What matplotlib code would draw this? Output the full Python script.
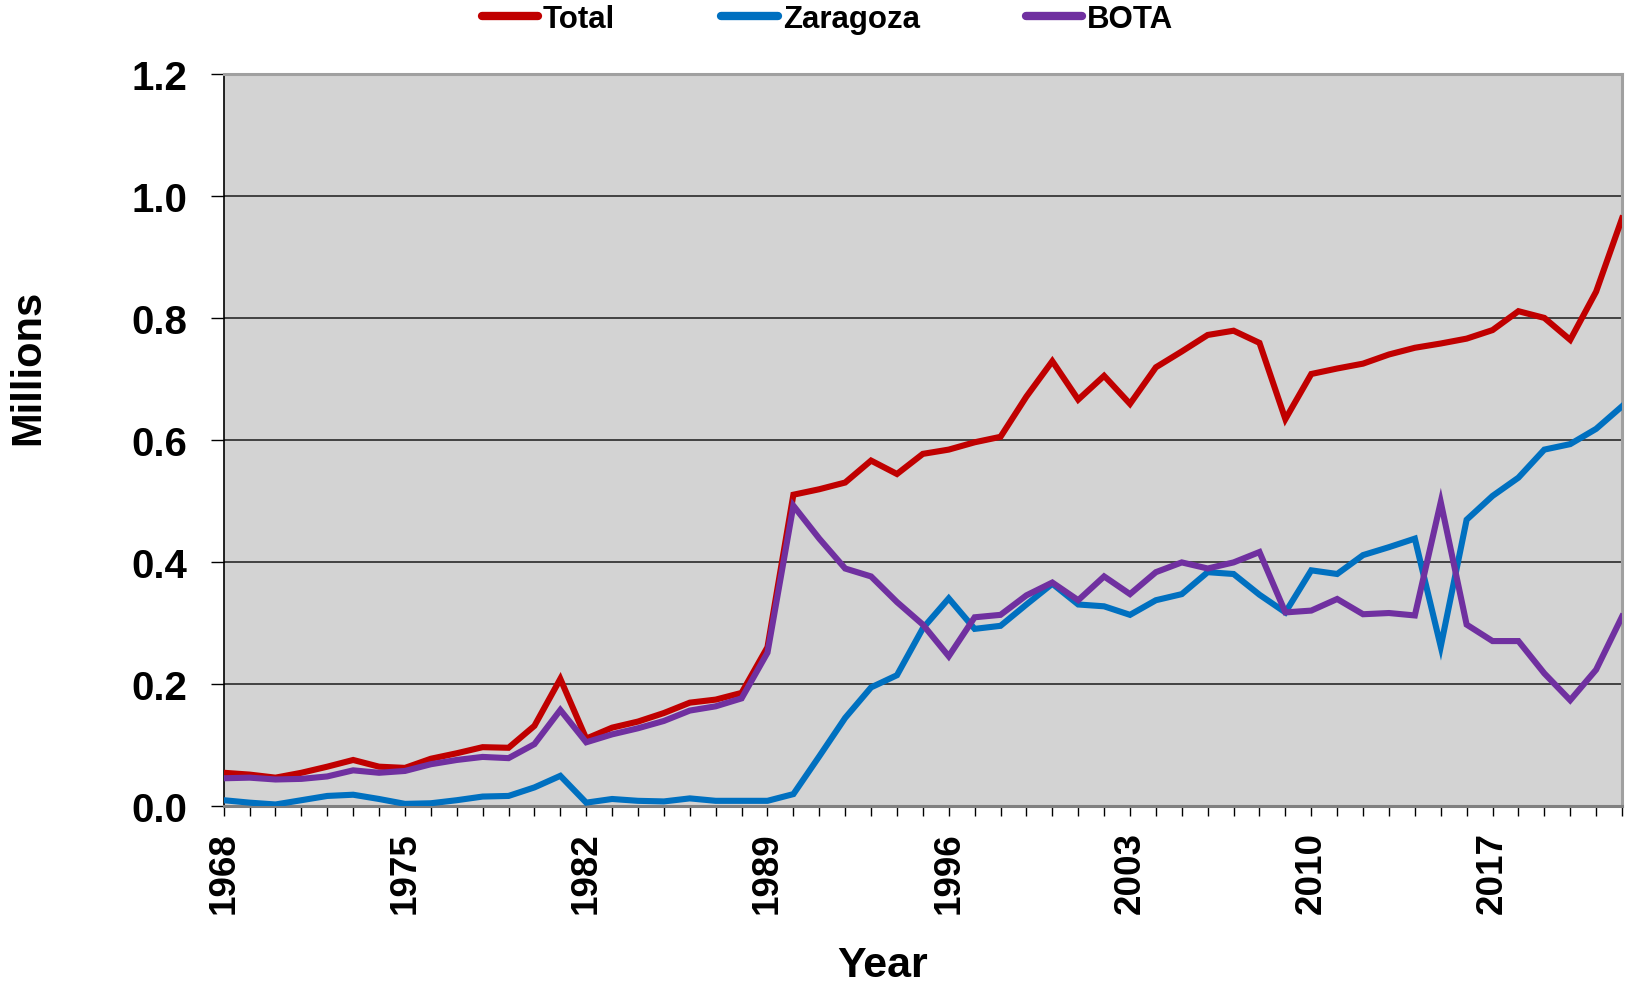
import matplotlib
matplotlib.use("Agg")
import matplotlib.pyplot as plt
import numpy as np

years = list(range(1968, 2023))

total = [0.054, 0.051, 0.046, 0.054, 0.064, 0.075, 0.064, 0.062, 0.077, 0.086,
         0.096, 0.095, 0.131, 0.208, 0.110, 0.128, 0.138, 0.152, 0.169, 0.174,
         0.185, 0.260, 0.510, 0.519, 0.530, 0.566, 0.544, 0.577, 0.584, 0.596,
         0.605, 0.671, 0.729, 0.666, 0.705, 0.659, 0.719, 0.745, 0.772, 0.779,
         0.759, 0.634, 0.708, 0.717, 0.725, 0.740, 0.751, 0.758, 0.766, 0.780,
         0.811, 0.800, 0.764, 0.843, 0.963]

zaragoza = [0.009, 0.005, 0.002, 0.009, 0.016, 0.018, 0.011, 0.003, 0.004, 0.009,
            0.015, 0.016, 0.030, 0.049, 0.005, 0.011, 0.008, 0.007, 0.012, 0.008,
            0.008, 0.008, 0.019, 0.081, 0.144, 0.194, 0.214, 0.291, 0.340, 0.290,
            0.295, 0.330, 0.364, 0.330, 0.327, 0.313, 0.337, 0.347, 0.383, 0.380,
            0.346, 0.317, 0.386, 0.380, 0.411, 0.424, 0.438, 0.261, 0.469, 0.508,
            0.538, 0.584, 0.593, 0.618, 0.655]

bota = [0.045, 0.046, 0.043, 0.044, 0.048, 0.058, 0.054, 0.057, 0.068, 0.075,
        0.080, 0.078, 0.101, 0.157, 0.104, 0.117, 0.127, 0.139, 0.156, 0.163,
        0.176, 0.251, 0.492, 0.438, 0.389, 0.376, 0.334, 0.297, 0.245, 0.309,
        0.313, 0.345, 0.366, 0.337, 0.376, 0.347, 0.383, 0.399, 0.389, 0.399,
        0.416, 0.317, 0.320, 0.339, 0.314, 0.316, 0.312, 0.498, 0.297, 0.270,
        0.270, 0.217, 0.173, 0.223, 0.310]

series_names = ["Total", "Zaragoza", "BOTA"]
series_colors = ["#C00000", "#0070C0", "#7030A0"]
tick_years = list(range(1968, 2023, 7))
y_ticks = [0.0, 0.2, 0.4, 0.6, 0.8, 1.0, 1.2]

plt.rcParams['font.family'] = ['Liberation Sans', 'DejaVu Sans']
plt.rcParams['font.weight'] = 'bold'

W, H = 1633, 987
fig = plt.figure(figsize=(W / 100, H / 100), dpi=100)
ax = fig.add_axes([223.7 / W, 1 - 806.7 / H, (1622 - 223.7) / W, (806.7 - 75) / H])
ax.set_facecolor("#D3D3D3")

for vals, name, col in zip([total, zaragoza, bota], series_names, series_colors):
    ax.plot(years, vals, color=col, lw=4.4, label=name, solid_joinstyle='miter',
            zorder=3)

ax.set_xlim(1968, 2022)
ax.set_ylim(0, 1.2)
ax.set_yticks(y_ticks)
ax.set_yticklabels([f"{v:.1f}" for v in y_ticks], fontsize=29, fontweight='bold')
ax.set_xticks(years, minor=True)
ax.set_xticks(tick_years)
ax.set_xticklabels([str(y) for y in tick_years], rotation=90, fontsize=26.5,
                   fontweight='bold')

ax.yaxis.grid(True, color="#1a1a1a", lw=1.1, zorder=1)
ax.set_axisbelow(True)

ax.tick_params(axis='y', which='major', direction='out', length=9.4, width=1.0,
               pad=17, color='black')
ax.tick_params(axis='x', which='both', direction='out', length=7.5, width=1.0,
               pad=11, color='black')

for s in ['top', 'right']:
    ax.spines[s].set_color('#A0A0A0')
    ax.spines[s].set_linewidth(2.2)
ax.spines['bottom'].set_color('#808080')
ax.spines['bottom'].set_linewidth(2.2)
ax.spines['left'].set_color('black')
ax.spines['left'].set_linewidth(1.2)

fig.text(28 / W, 1 - 367 / H, "Millions", rotation=90, fontsize=30,
         fontweight='bold', ha='center', va='center')
fig.text(883 / W, 1 - 966 / H, "Year", fontsize=31, fontweight='bold',
         ha='center', va='center')

leg = fig.legend(loc='center', bbox_to_anchor=(827.5 / W, 1 - 20 / H), ncol=3,
                 frameon=False, handlelength=1.8,
                 handletextpad=0.16, columnspacing=3.4, borderpad=0,
                 prop={'weight': 'bold', 'size': 22.5})
for line in leg.get_lines():
    line.set_linewidth(6)
    line.set_solid_capstyle('round')

fig.savefig("out.png", dpi=100)
